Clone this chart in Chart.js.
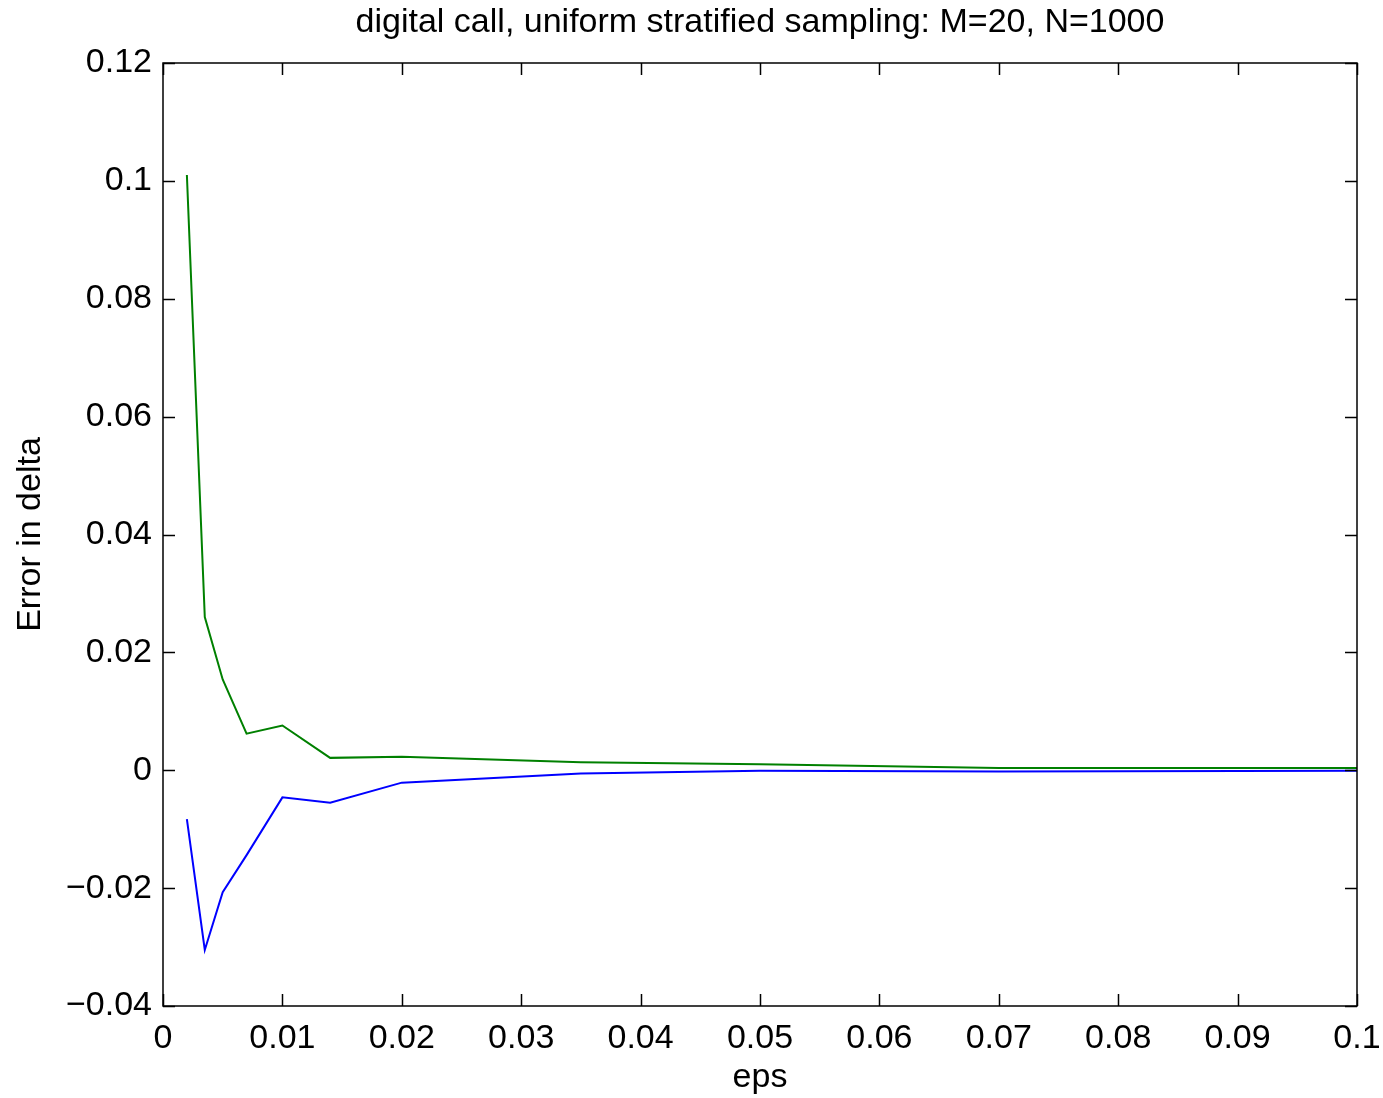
<!DOCTYPE html>
<html>
<head>
<meta charset="utf-8">
<script src="https://cdn.jsdelivr.net/npm/chart.js@4/dist/chart.umd.min.js"></script>
<style>
  html, body { margin: 0; padding: 0; background: #fff; }
  canvas { display: block; }
</style>
</head>
<body>
<canvas id="chart" width="1383" height="1098"></canvas>
<script>
// data
const epsValues = [0.002, 0.0035, 0.005, 0.007, 0.01, 0.014, 0.02, 0.035, 0.05, 0.07, 0.1];
const upperError = [0.1010, 0.0260, 0.0154, 0.0062, 0.0076, 0.0021, 0.0023, 0.00135, 0.0010, 0.0004, 0.0004];
const lowerError = [-0.0083, -0.0305, -0.0207, -0.0144, -0.0046, -0.0055, -0.0021, -0.00056, -0.0001, -0.0002, -0.0001];
const xTicks = [0, 0.01, 0.02, 0.03, 0.04, 0.05, 0.06, 0.07, 0.08, 0.09, 0.1];
const yTicks = [-0.04, -0.02, 0, 0.02, 0.04, 0.06, 0.08, 0.1, 0.12];

const titleText = 'digital call, uniform stratified sampling: M=20, N=1000';
const FONT = "'Liberation Sans', Arial, Helvetica, sans-serif";

function fmt(v) {
    const s = String(Number(v.toFixed(4)));
    return v < 0 ? '\u2212' + s.slice(1) : s;
}

// box round the plot, ticks pointing inwards, title above
const boxPlugin = {
    id: 'box',
    afterDatasetsDraw(chart) {
        const { ctx, chartArea: a, scales } = chart;
        const len = 12;
        ctx.save();
        ctx.strokeStyle = '#000';
        ctx.lineWidth = 1.5;
        ctx.strokeRect(a.left, a.top, a.right - a.left, a.bottom - a.top);
        ctx.beginPath();
        xTicks.forEach(v => {
            const px = Math.round(scales.x.getPixelForValue(v)) + 0.5;
            ctx.moveTo(px, a.bottom); ctx.lineTo(px, a.bottom - len);
            ctx.moveTo(px, a.top); ctx.lineTo(px, a.top + len);
        });
        yTicks.forEach(v => {
            const py = Math.round(scales.y.getPixelForValue(v)) + 0.5;
            ctx.moveTo(a.left, py); ctx.lineTo(a.left + len, py);
            ctx.moveTo(a.right, py); ctx.lineTo(a.right - len, py);
        });
        ctx.stroke();

        ctx.fillStyle = '#000';
        ctx.font = '34px ' + FONT;
        ctx.textAlign = 'center';
        ctx.textBaseline = 'middle';
        ctx.fillText(titleText, (a.left + a.right) / 2, 23);
        ctx.restore();
    }
};

new Chart(document.getElementById('chart'), {
    type: 'line',
    data: {
        datasets: [
            {
                label: 'upper',
                data: epsValues.map((x, i) => ({ x, y: upperError[i] })),
                borderColor: '#008000',
                borderWidth: 2,
                pointRadius: 0,
                tension: 0
            },
            {
                label: 'lower',
                data: epsValues.map((x, i) => ({ x, y: lowerError[i] })),
                borderColor: '#0000ff',
                borderWidth: 2,
                pointRadius: 0,
                tension: 0
            }
        ]
    },
    options: {
        responsive: false,
        animation: false,
        devicePixelRatio: 1,
        layout: { padding: { left: 0, top: 63, right: 26, bottom: 0 } },
        plugins: {
            legend: { display: false },
            tooltip: { enabled: false }
        },
        scales: {
            x: {
                type: 'linear',
                min: 0,
                max: 0.1,
                afterFit(scale) {
                    scale.height = 92;
                    scale.paddingLeft = 0;
                    scale.paddingRight = 0;
                },
                afterBuildTicks(scale) { scale.ticks = xTicks.map(v => ({ value: v })); },
                grid: { display: false, drawTicks: false },
                border: { display: false },
                ticks: {
                    color: '#000',
                    padding: 12,
                    maxRotation: 0,
                    font: { family: FONT, size: 34 },
                    callback: v => fmt(v)
                },
                title: {
                    display: true,
                    text: 'eps',
                    color: '#000',
                    padding: { top: 0, bottom: 0 },
                    font: { family: FONT, size: 34 }
                }
            },
            y: {
                type: 'linear',
                min: -0.04,
                max: 0.12,
                afterFit(scale) {
                    scale.width = 163;
                    scale.paddingTop = 0;
                    scale.paddingBottom = 0;
                },
                afterBuildTicks(scale) { scale.ticks = yTicks.map(v => ({ value: v })); },
                grid: { display: false, drawTicks: false },
                border: { display: false },
                ticks: {
                    color: '#000',
                    padding: 11,
                    font: { family: FONT, size: 34 },
                    callback: v => fmt(v)
                },
                title: {
                    display: true,
                    text: 'Error in delta',
                    color: '#000',
                    padding: { top: 10, bottom: 0 },
                    font: { family: FONT, size: 34 }
                }
            }
        }
    },
    plugins: [boxPlugin]
});
</script>
</body>
</html>
